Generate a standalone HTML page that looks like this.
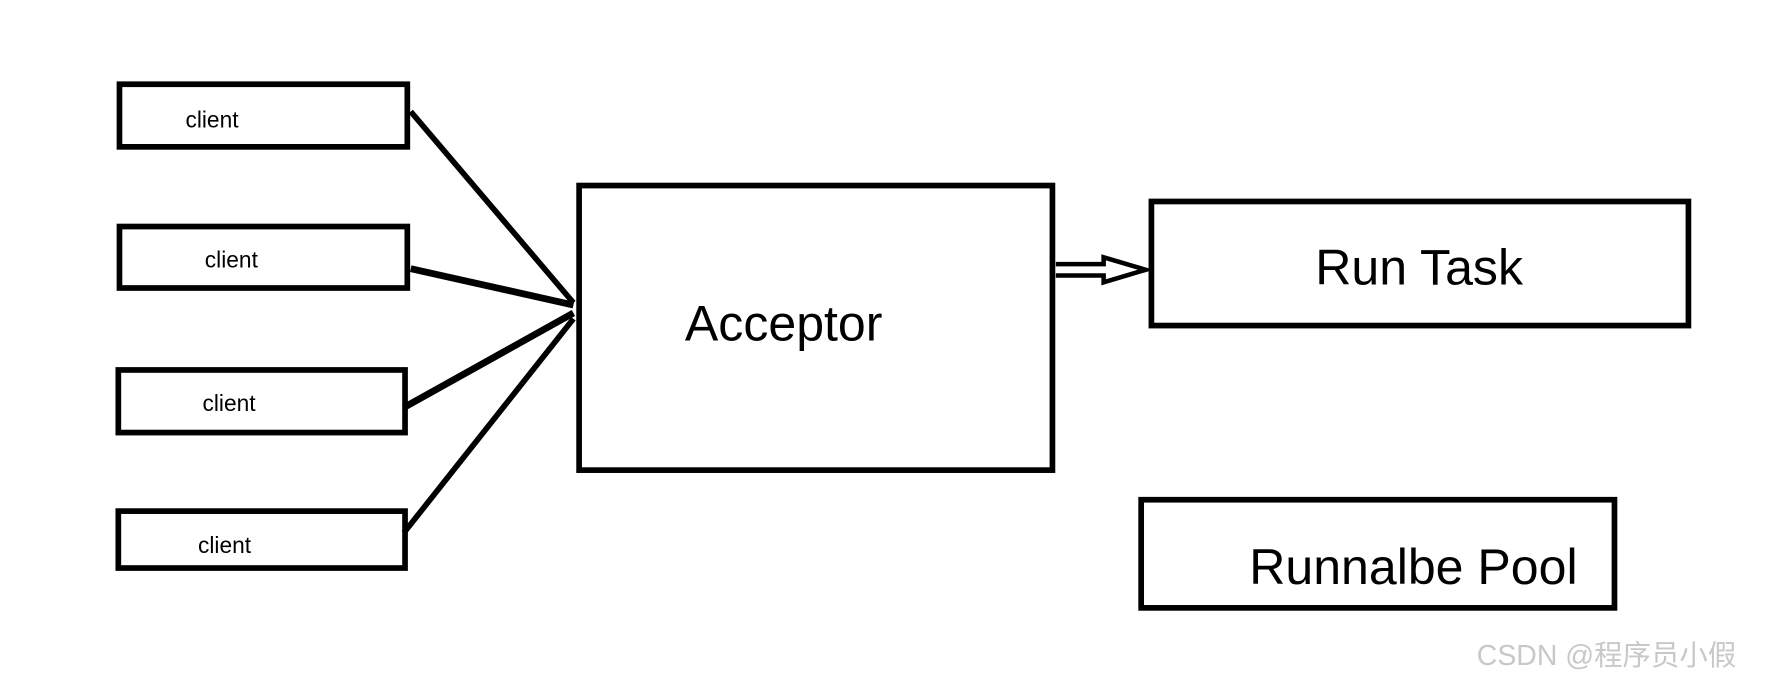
<!DOCTYPE html>
<html><head><meta charset="utf-8"><style>
html,body{margin:0;padding:0;background:#fff;}
svg{display:block;}
text{font-family:"Liberation Sans","Noto Sans CJK SC",sans-serif;fill:#000;}
</style></head><body>
<svg width="1784" height="683" viewBox="0 0 1568 600" preserveAspectRatio="none" xmlns="http://www.w3.org/2000/svg">
<rect width="1568" height="600" fill="#fff"/>
<g fill="none" stroke="#000" stroke-width="5">
<rect x="105" y="74" width="253" height="55"/>
<rect x="105" y="199" width="253" height="54"/>
<rect x="104" y="325" width="252" height="55"/>
<rect x="104" y="449" width="252" height="50"/>
<rect x="509" y="163" width="416" height="250"/>
<rect x="1012" y="177" width="472" height="109"/>
<rect x="1003" y="439" width="416" height="95"/>
<line x1="361" y1="98" x2="504" y2="266"/>
<line x1="361" y1="236" x2="504" y2="268" stroke-width="6"/>
<line x1="355" y1="358" x2="504" y2="275" stroke-width="6"/>
<line x1="355" y1="468" x2="504" y2="280"/>
<polyline points="928,232 970,232 970,226 1007,237 970,248 970,242 928,242" stroke-width="4"/>
</g>
<g font-size="20">
<text x="163" y="112">client</text>
<text x="180" y="235">client</text>
<text x="178" y="361">client</text>
<text x="174" y="486">client</text>
</g>
<text x="602" y="299" font-size="44">Acceptor</text>
<text x="1156" y="250" font-size="44">Run Task</text>
<text x="1098" y="513" font-size="44">Runnalbe Pool</text>
<text x="1298" y="584" font-size="25" style="fill:#c8c8c8">CSDN @程序员小假</text>
</svg>
</body></html>
